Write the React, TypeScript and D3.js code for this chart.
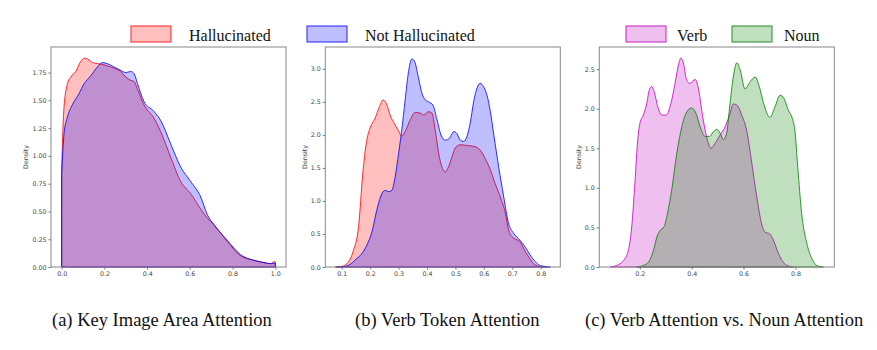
import * as d3 from 'd3';
import { useEffect, useRef } from 'react';

const WIDTH = 877;
const HEIGHT = 350;

// (a) Key Image Area Attention — KDE points [x, density]
const A_HALLUCINATED: [number, number][] = [
    [0.0, 0.86], [0.005, 1.2], [0.011, 1.44], [0.027, 1.65], [0.042, 1.71], [0.066, 1.76],
    [0.089, 1.85], [0.108, 1.88], [0.123, 1.87], [0.144, 1.84], [0.168, 1.83], [0.198, 1.82],
    [0.214, 1.81], [0.245, 1.79], [0.276, 1.76], [0.3, 1.71], [0.323, 1.68], [0.339, 1.67],
    [0.355, 1.6], [0.385, 1.46], [0.432, 1.34], [0.463, 1.22], [0.51, 0.99], [0.557, 0.77],
    [0.604, 0.66], [0.651, 0.52], [0.682, 0.44], [0.713, 0.38], [0.775, 0.23], [0.838, 0.1],
    [0.9, 0.06], [0.947, 0.04], [0.978, 0.03], [0.995, 0.05], [1.0, 0.045],
];
const A_NOT_HALLUCINATED: [number, number][] = [
    [0.0, 0.84], [0.011, 1.2], [0.027, 1.35], [0.05, 1.46], [0.081, 1.56], [0.105, 1.65],
    [0.136, 1.72], [0.167, 1.8], [0.19, 1.84], [0.214, 1.83], [0.245, 1.8], [0.276, 1.77],
    [0.3, 1.75], [0.323, 1.76], [0.339, 1.74], [0.355, 1.65], [0.385, 1.49], [0.432, 1.4],
    [0.463, 1.32], [0.51, 1.11], [0.557, 0.9], [0.604, 0.77], [0.651, 0.63], [0.682, 0.47],
    [0.713, 0.38], [0.775, 0.24], [0.838, 0.11], [0.9, 0.06], [0.947, 0.04], [0.978, 0.03],
    [1.0, 0.035],
];

// (b) Verb Token Attention
const B_HALLUCINATED: [number, number][] = [
    [0.077, 0], [0.1, 0.01], [0.124, 0.08], [0.141, 0.25], [0.159, 0.61], [0.174, 1.42],
    [0.186, 1.87], [0.2, 2.11], [0.217, 2.25], [0.233, 2.43], [0.245, 2.53], [0.259, 2.45],
    [0.27, 2.3], [0.288, 2.15], [0.3, 2.06], [0.311, 1.98], [0.323, 2.05], [0.341, 2.23],
    [0.358, 2.34], [0.376, 2.33], [0.388, 2.3], [0.405, 2.35], [0.417, 2.33], [0.429, 2.07],
    [0.441, 1.72], [0.452, 1.52], [0.464, 1.44], [0.476, 1.52], [0.488, 1.67], [0.499, 1.8],
    [0.517, 1.85], [0.54, 1.84], [0.57, 1.82], [0.587, 1.77], [0.605, 1.64], [0.623, 1.47],
    [0.64, 1.26], [0.658, 1.06], [0.676, 0.81], [0.687, 0.56], [0.699, 0.46], [0.717, 0.41],
    [0.728, 0.38], [0.74, 0.28], [0.758, 0.15], [0.775, 0.05], [0.793, 0.01], [0.822, 0],
];
const B_NOT_HALLUCINATED: [number, number][] = [
    [0.082, 0], [0.106, 0.005], [0.129, 0.04], [0.153, 0.13], [0.17, 0.2], [0.188, 0.33],
    [0.206, 0.53], [0.226, 0.91], [0.241, 1.11], [0.253, 1.16], [0.264, 1.14], [0.276, 1.16],
    [0.288, 1.37], [0.3, 1.72], [0.311, 2.07], [0.323, 2.53], [0.335, 2.96], [0.347, 3.15],
    [0.358, 3.09], [0.37, 2.86], [0.382, 2.63], [0.394, 2.53], [0.405, 2.5], [0.421, 2.45],
    [0.435, 2.23], [0.449, 2.0], [0.464, 1.92], [0.479, 1.95], [0.494, 2.05], [0.505, 2.02],
    [0.517, 1.92], [0.529, 1.9], [0.54, 1.97], [0.552, 2.18], [0.564, 2.5], [0.576, 2.71],
    [0.587, 2.78], [0.599, 2.73], [0.611, 2.6], [0.623, 2.35], [0.635, 2.0], [0.652, 1.52],
    [0.67, 1.06], [0.687, 0.66], [0.705, 0.51], [0.728, 0.4], [0.746, 0.3], [0.763, 0.18],
    [0.781, 0.08], [0.799, 0.02], [0.834, 0],
];

// (c) Verb Attention vs. Noun Attention
const C_VERB: [number, number][] = [
    [0.086, 0], [0.111, 0.02], [0.137, 0.08], [0.156, 0.21], [0.169, 0.51], [0.182, 1.1],
    [0.192, 1.6], [0.201, 1.82], [0.214, 1.92], [0.227, 2.07], [0.237, 2.24], [0.246, 2.28],
    [0.257, 2.2], [0.269, 2.03], [0.285, 1.92], [0.302, 1.92], [0.317, 2.03], [0.336, 2.32],
    [0.349, 2.55], [0.358, 2.64], [0.368, 2.58], [0.381, 2.36], [0.394, 2.32], [0.413, 2.37],
    [0.426, 2.26], [0.439, 1.98], [0.452, 1.73], [0.465, 1.56], [0.474, 1.5], [0.49, 1.56],
    [0.51, 1.67], [0.529, 1.77], [0.546, 1.92], [0.561, 2.06], [0.576, 2.04], [0.593, 1.92],
    [0.612, 1.73], [0.632, 1.31], [0.651, 0.89], [0.668, 0.57], [0.683, 0.44], [0.7, 0.42],
    [0.715, 0.34], [0.735, 0.17], [0.751, 0.07], [0.767, 0.02], [0.792, 0],
];
const C_NOUN: [number, number][] = [
    [0.188, 0], [0.214, 0.02], [0.233, 0.06], [0.253, 0.21], [0.266, 0.38], [0.278, 0.46],
    [0.294, 0.51], [0.307, 0.68], [0.323, 0.97], [0.343, 1.44], [0.362, 1.77], [0.381, 1.96],
    [0.4, 2.01], [0.417, 1.94], [0.433, 1.77], [0.452, 1.65], [0.469, 1.65], [0.484, 1.71],
    [0.497, 1.74], [0.51, 1.69], [0.523, 1.61], [0.535, 1.69], [0.548, 2.07], [0.561, 2.41],
    [0.574, 2.58], [0.587, 2.49], [0.606, 2.25], [0.625, 2.34], [0.645, 2.4], [0.661, 2.28],
    [0.679, 2.05], [0.702, 1.89], [0.722, 2.03], [0.741, 2.17], [0.756, 2.13], [0.773, 1.98],
    [0.788, 1.88], [0.798, 1.73], [0.809, 1.27], [0.824, 0.68], [0.844, 0.3], [0.863, 0.11],
    [0.882, 0.02], [0.908, 0],
];

const A_X_TICKS = [0, 0.2, 0.4, 0.6, 0.8, 1.0];
const A_Y_TICKS = [0, 0.25, 0.5, 0.75, 1.0, 1.25, 1.5, 1.75];
const B_X_TICKS = [0.1, 0.2, 0.3, 0.4, 0.5, 0.6, 0.7, 0.8];
const B_Y_TICKS = [0, 0.5, 1.0, 1.5, 2.0, 2.5, 3.0];
const C_X_TICKS = [0.2, 0.4, 0.6, 0.8];
const C_Y_TICKS = [0, 0.5, 1.0, 1.5, 2.0, 2.5];

const CAPTIONS = [
    '(a) Key Image Area Attention',
    '(b) Verb Token Attention',
    '(c) Verb Attention vs. Noun Attention',
];

const RED = '#ff0000';
const BLUE = '#0000ff';
const MAGENTA = '#bf00bf';
const GREEN = '#008000';

const PANELS = [
    {
        left: 51, xDomain: [-0.05, 1.05], yMax: 1.98, xTicks: A_X_TICKS, yTicks: A_Y_TICKS, yFmt: '.2f',
        series: [{ data: A_HALLUCINATED, color: RED }, { data: A_NOT_HALLUCINATED, color: BLUE }],
        caption: CAPTIONS[0], captionX: 52,
    },
    {
        left: 325.3, xDomain: [0.042, 0.869], yMax: 3.33, xTicks: B_X_TICKS, yTicks: B_Y_TICKS, yFmt: '.1f',
        series: [{ data: B_HALLUCINATED, color: RED }, { data: B_NOT_HALLUCINATED, color: BLUE }],
        caption: CAPTIONS[1], captionX: 355,
    },
    {
        left: 599.3, xDomain: [0.044, 0.95], yMax: 2.78, xTicks: C_X_TICKS, yTicks: C_Y_TICKS, yFmt: '.1f',
        series: [{ data: C_VERB, color: MAGENTA }, { data: C_NOUN, color: GREEN }],
        caption: CAPTIONS[2], captionX: 585,
    },
];

const LEGEND = [
    { label: 'Hallucinated', color: RED, boxX: 131, textX: 189 },
    { label: 'Not Hallucinated', color: BLUE, boxX: 307, textX: 365 },
    { label: 'Verb', color: MAGENTA, boxX: 626, textX: 677 },
    { label: 'Noun', color: GREEN, boxX: 732, textX: 784 },
];

export default function App() {
    const svgRef = useRef<SVGSVGElement>(null);

    useEffect(() => {
        const svg = d3.select(svgRef.current);
        svg.selectAll('*').remove();
        svg.append('rect').attr('width', WIDTH).attr('height', HEIGHT).attr('fill', '#fff');

        const top = 47;
        const innerW = 235;
        const innerH = 220;
        const tickFont = 'DejaVu Sans, sans-serif';

        PANELS.forEach((p) => {
            const x = d3.scaleLinear().domain(p.xDomain).range([p.left, p.left + innerW]);
            const y = d3.scaleLinear().domain([0, p.yMax]).range([top + innerH, top]);
            const g = svg.append('g');

            const area = d3
                .area<[number, number]>()
                .x((d) => x(d[0]))
                .y0(y(0))
                .y1((d) => y(Math.max(0, d[1])))
                .curve(d3.curveMonotoneX);

            for (const s of p.series) {
                g.append('path')
                    .attr('d', area(s.data))
                    .attr('fill', s.color)
                    .attr('fill-opacity', 0.25)
                    .attr('stroke', s.color)
                    .attr('stroke-opacity', 0.8)
                    .attr('stroke-width', 1);
            }

            const xAxis = g
                .append('g')
                .attr('transform', `translate(0,${top + innerH})`)
                .call(
                    d3.axisBottom(x)
                        .tickValues(p.xTicks)
                        .tickSize(2.5)
                        .tickPadding(2)
                        .tickFormat(d3.format('.1f')),
                );
            const yAxis = g
                .append('g')
                .attr('transform', `translate(${p.left},0)`)
                .call(
                    d3.axisLeft(y)
                        .tickValues(p.yTicks)
                        .tickSize(2.5)
                        .tickPadding(2)
                        .tickFormat(d3.format(p.yFmt)),
                );
            for (const ax of [xAxis, yAxis]) {
                ax.select('.domain').remove();
                ax.selectAll('line').attr('stroke', '#555').attr('stroke-width', 0.8);
                ax.selectAll('text')
                    .attr('fill', '#444')
                    .attr('font-size', 6.3)
                    .attr('font-family', tickFont);
            }

            g.append('rect')
                .attr('x', p.left)
                .attr('y', top)
                .attr('width', innerW)
                .attr('height', innerH)
                .attr('fill', 'none')
                .attr('stroke', '#888')
                .attr('stroke-width', 1);

            const labelWidth = d3.format(p.yFmt)(p.yTicks[p.yTicks.length - 1]).length === 4 ? 14 : 9.3;
            const lx = p.left - 2.5 - 2 - labelWidth - 5;
            g.append('text')
                .attr('transform', `translate(${lx},${top + innerH / 2}) rotate(-90)`)
                .attr('text-anchor', 'middle')
                .attr('font-size', 6.3)
                .attr('font-family', tickFont)
                .attr('fill', '#444')
                .text('Density');

            svg.append('text')
                .attr('x', p.captionX)
                .attr('y', 326)
                .attr('font-size', 18.5)
                .attr('font-family', 'Liberation Serif, Times New Roman, serif')
                .attr('fill', '#111')
                .text(p.caption);
        });

        for (const item of LEGEND) {
            svg.append('rect')
                .attr('x', item.boxX)
                .attr('y', 26)
                .attr('width', 40)
                .attr('height', 16)
                .attr('fill', item.color)
                .attr('fill-opacity', 0.25)
                .attr('stroke', item.color)
                .attr('stroke-opacity', 0.65)
                .attr('stroke-width', 1.3);
            svg.append('text')
                .attr('x', item.textX)
                .attr('y', 41)
                .attr('font-size', 16)
                .attr('font-family', 'Liberation Serif, Times New Roman, serif')
                .attr('fill', '#111')
                .text(item.label);
        }
    }, []);

    return (
        <svg
            ref={svgRef}
            width={WIDTH}
            height={HEIGHT}
            style={{ position: 'absolute', left: 0, top: 0, display: 'block' }}
        />
    );
}
